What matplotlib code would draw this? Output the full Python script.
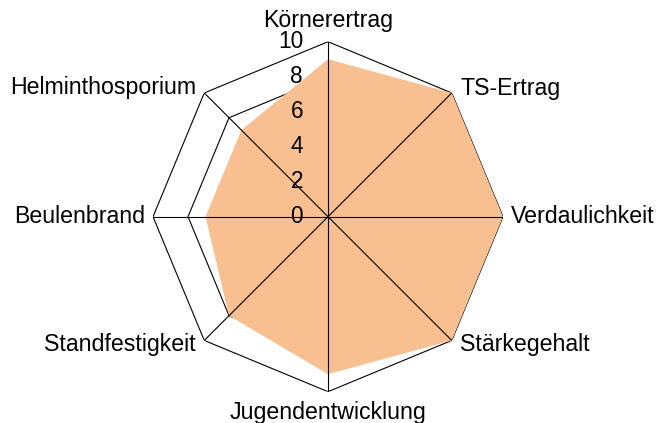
import numpy as np
import matplotlib
matplotlib.use("Agg")
import matplotlib.pyplot as plt

categories = ["Körnerertrag", "TS-Ertrag", "Verdaulichkeit", "Stärkegehalt",
              "Jugendentwicklung", "Standfestigkeit", "Beulenbrand", "Helminthosporium"]
values = [9, 10, 10, 10, 9, 8, 7, 7]
grid_levels = [2, 4, 6, 8, 10]
tick_labels = ["0", "2", "4", "6", "8", "10"]

plt.rcParams['font.family'] = ['Liberation Sans', 'DejaVu Sans']

fig = plt.figure(figsize=(6.57, 4.23), dpi=100)
ax = fig.add_axes([0.2329, 0.074, 0.5327, 0.8274], projection='polar')
ax.set_theta_offset(np.pi / 2)
ax.set_theta_direction(-1)
ax.set_ylim(0, 10)
ax.grid(False)
ax.spines['polar'].set_visible(False)
ax.set_xticks([])
ax.set_yticks([])
ax.patch.set_visible(False)

n = len(categories)
theta = np.arange(n) * 2 * np.pi / n
tc = np.append(theta, theta[0])

# octagon grid
for lv in grid_levels:
    ax.plot(tc, [lv] * (n + 1), color='black', lw=0.8, zorder=1)

# data fill
vc = np.append(values, values[0])
ax.fill(tc, vc, color='#F8C090', lw=0, zorder=2)

# spokes
for t in theta:
    ax.plot([t, t], [0, 10], color='black', lw=0.8, zorder=3)

# radial tick labels
for lv, lab in zip(range(0, 11, 2), tick_labels):
    ax.annotate(lab, xy=(0, lv), xytext=(-18, 0), textcoords='offset points',
                ha='right', va='center', fontsize=16.3, zorder=4)

# category labels
offsets = [(0, 7, 'center', 'bottom'), (6, 3, 'left', 'center'),
           (6, 0, 'left', 'center'), (6, -3, 'left', 'center'),
           (0, -7, 'center', 'top'), (-6, -3, 'right', 'center'),
           (-6, 0, 'right', 'center'), (-6, 4, 'right', 'center')]
for t, lab, (dx, dy, ha, va) in zip(theta, categories, offsets):
    ax.annotate(lab, xy=(t, 10), xytext=(dx, dy), textcoords='offset points',
                ha=ha, va=va, fontsize=16.7, annotation_clip=False)

fig.savefig('out.png', dpi=100)
